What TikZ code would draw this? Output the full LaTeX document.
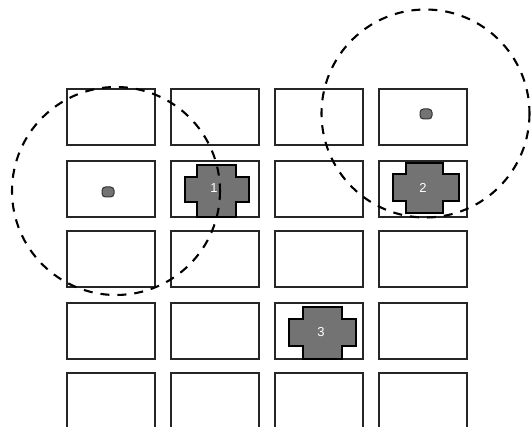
\documentclass[tikz,border=0pt]{standalone}
\usepackage{fontspec}
\setmainfont{Liberation Sans}
\begin{document}
\begin{tikzpicture}[x=1pt,y=-1pt,
  cell/.style={draw=black!85,line width=1.3pt,fill=white,minimum width=88pt,minimum height=56pt,inner sep=0pt,outer sep=0pt},
  crossshape/.style={draw=black,line width=1.2pt,fill=black!55},
  dotshape/.style={draw=black!80,line width=1pt,fill=black!55,rounded corners=3.5pt,minimum width=12pt,minimum height=10pt,inner sep=0pt},
  numlab/.style={text=white,font=\fontsize{13}{14}\selectfont,inner sep=0pt},
  rangecircle/.style={draw=black,line width=2.1pt,dash pattern=on 9pt off 8pt}]
\useasboundingbox (0,0) rectangle (531,430);
% grid rows 1-4
\foreach \c/\x in {1/111,2/215,3/319,4/423}{
  \foreach \r/\y in {1/117,2/189,3/259,4/331}{
    \node[cell] (c\r\c) at (\x,\y) {};
  }
}
% row 5 (open at bottom)
\foreach \c/\x in {1/67,2/171,3/275,4/379}{
  \draw[draw=black!85,line width=1.3pt] (\x,427) -- (\x,373) -- ++(88,0) -- ++(0,54);
}
% crosses
\draw[crossshape] (197,165) -- (236,165) -- (236,177) -- (249,177) -- (249,202) -- (236,202) -- (236,217) -- (197,217) -- (197,202) -- (185,202) -- (185,177) -- (197,177) -- cycle;
\draw[crossshape] (406,163) -- (443,163) -- (443,174) -- (459,174) -- (459,201) -- (443,201) -- (443,213) -- (406,213) -- (406,201) -- (393,201) -- (393,174) -- (406,174) -- cycle;
\draw[crossshape] (303,307) -- (342,307) -- (342,319) -- (356,319) -- (356,346) -- (342,346) -- (342,359) -- (303,359) -- (303,346) -- (289,346) -- (289,319) -- (303,319) -- cycle;
\node[numlab] (n1) at (214,188) {1};
\node[numlab] (n2) at (423,188) {2};
\node[numlab] (n3) at (321,332) {3};
% dots
\node[dotshape] (d1) at (108,192) {};
\node[dotshape] (d2) at (426,114) {};
% dashed ranges
\draw[rangecircle] (116,191) circle (104);
\draw[rangecircle] (425.5,113.5) circle (104);
\end{tikzpicture}
\end{document}
